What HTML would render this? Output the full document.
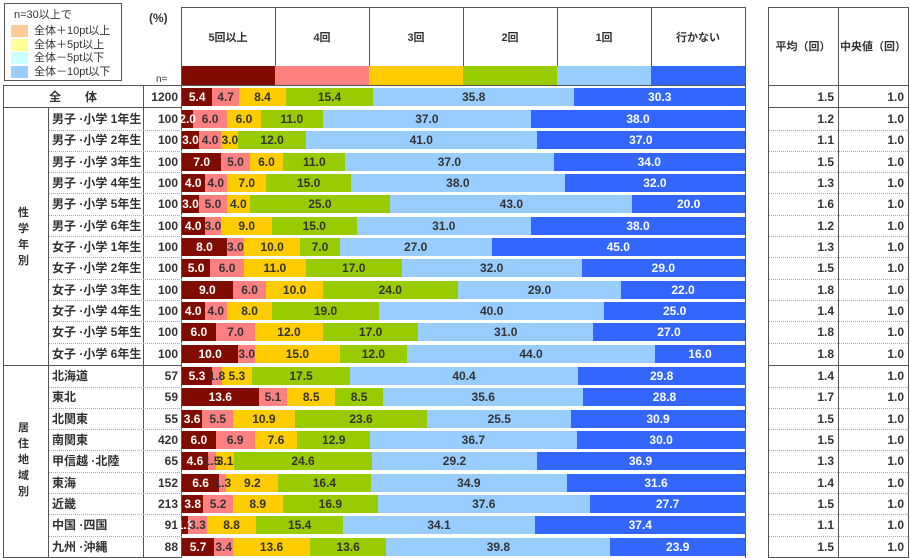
<!DOCTYPE html><html><head><meta charset="utf-8"><style>
body{margin:0;width:910px;height:558px;background:#fff;position:relative;overflow:hidden;font-family:"Liberation Sans","Noto Sans CJK JP",sans-serif;font-weight:bold;color:#333}
div{position:absolute;box-sizing:border-box}
.t{font-size:12px;white-space:nowrap;line-height:18px;height:18px}
</style></head><body>
<div style="left:4px;top:3px;width:118px;height:78px;border:1px solid #555"></div>
<div class="t" style="left:14px;top:6px;font-weight:normal;font-size:11px">n=30以上で</div>
<div class="t" style="left:149px;top:9px;font-size:12px">(%)</div>
<div class="t" style="left:156px;top:71px;font-size:10px;font-weight:normal">n=</div>
<div id="c"></div>
<script>
var c=document.getElementById('c'),h='',lab='';
function d(s){h+=s}
var lgc=['#ffcc99','#ffff99','#ccffff','#99ccff'],lgt=['全体＋10pt以上','全体＋5pt以上','全体－5pt以下','全体－10pt以下'];
for(var i=0;i<4;i++){d('<div style="left:11px;top:'+(25+i*13.5)+'px;width:17px;height:12px;background:'+lgc[i]+'"></div><div class="t" style="left:34px;top:'+(22+i*13.5)+'px;font-weight:normal;font-size:11px">'+lgt[i]+'</div>')}
var cols=['#800c00','#ff8080','#ffcc00','#99cc00','#99ccff','#3366ff'],hd=['5回以上','4回','3回','2回','1回','行かない'];
d('<div style="left:181px;top:7px;width:565px;height:79px;border:1px solid #555"></div>');
for(var i=0;i<6;i++){var x=181+i*94;
 if(i>0)d('<div style="left:'+x+'px;top:7px;width:1px;height:59px;background:#555"></div>');
 d('<div class="t" style="left:'+x+'px;top:29px;width:94px;text-align:center;font-size:11px">'+hd[i]+'</div>');
 d('<div style="left:'+x+'px;top:66px;width:'+(i==5?95:94)+'px;height:19px;background:'+cols[i]+'"></div>');}
d('<div style="left:768px;top:7px;width:141px;height:551px;border:1px solid #555"></div>');
d('<div style="left:838px;top:7px;width:1px;height:551px;background:#555"></div>');
d('<div style="left:768px;top:85px;width:141px;height:1px;background:#555"></div>');
d('<div class="t" style="left:768px;top:38px;width:70px;text-align:center;font-size:11px">平均（回）</div>');
d('<div class="t" style="left:838px;top:38px;width:70px;text-align:center;font-size:11px">中央値（回）</div>');
d('<div style="left:3px;top:85px;width:179px;height:473px;border:1px solid #555"></div>');
d('<div style="left:143px;top:85px;width:1px;height:473px;background:#555"></div>');
d('<div style="left:3px;top:107px;width:179px;height:1px;background:#555"></div>');
d('<div style="left:768px;top:107px;width:141px;height:1px;background:#555"></div>');
d('<div style="left:48px;top:107px;width:1px;height:451px;background:#555"></div>');
d('<div style="left:3px;top:365px;width:179px;height:1px;background:#555"></div>');
d('<div style="left:768px;top:365px;width:141px;height:1px;background:#555"></div>');
d('<div style="left:181px;top:7px;width:1px;height:551px;background:#555"></div>');
d('<div style="left:745px;top:7px;width:1px;height:551px;background:#555"></div>');
d('<div style="left:18px;top:205px;width:14px;line-height:16px;font-size:11px">性<br>学<br>年<br>別</div>');
d('<div style="left:18px;top:420px;width:14px;line-height:16px;font-size:11px">居<br>住<br>地<br>域<br>別</div>');
var R=[['全　　体',1200,[5.4,4.7,8.4,15.4,35.8,30.3],1.5],
['男子 ·小学 1年生',100,[2,6,6,11,37,38],1.2],['男子 ·小学 2年生',100,[3,4,3,12,41,37],1.1],['男子 ·小学 3年生',100,[7,5,6,11,37,34],1.5],['男子 ·小学 4年生',100,[4,4,7,15,38,32],1.3],['男子 ·小学 5年生',100,[3,5,4,25,43,20],1.6],['男子 ·小学 6年生',100,[4,3,9,15,31,38],1.2],
['女子 ·小学 1年生',100,[8,3,10,7,27,45],1.3],['女子 ·小学 2年生',100,[5,6,11,17,32,29],1.5],['女子 ·小学 3年生',100,[9,6,10,24,29,22],1.8],['女子 ·小学 4年生',100,[4,4,8,19,40,25],1.4],['女子 ·小学 5年生',100,[6,7,12,17,31,27],1.8],['女子 ·小学 6年生',100,[10,3,15,12,44,16],1.8],
['北海道',57,[5.3,1.8,5.3,17.5,40.4,29.8],1.4],['東北',59,[13.6,5.1,8.5,8.5,35.6,28.8],1.7],['北関東',55,[3.6,5.5,10.9,23.6,25.5,30.9],1.5],['南関東',420,[6,6.9,7.6,12.9,36.7,30],1.5],['甲信越 ·北陸',65,[4.6,1.5,3.1,24.6,29.2,36.9],1.3],['東海',152,[6.6,1.3,9.2,16.4,34.9,31.6],1.4],['近畿',213,[3.8,5.2,8.9,16.9,37.6,27.7],1.5],['中国 ·四国',91,[1.1,3.3,8.8,15.4,34.1,37.4],1.1],['九州 ·沖縄',88,[5.7,3.4,13.6,13.6,39.8,23.9],1.5]];
for(var r=0;r<R.length;r++){
 var cy=r==0?97:(r<13?119+(r-1)*21.33:376+(r-13)*21.33);
 var q=R[r],ty=cy-9;
 if(r==0)d('<div class="t" style="left:3px;top:'+ty+'px;width:140px;text-align:center">'+q[0]+'</div>');
 else d('<div class="t" style="left:52px;top:'+ty+'px">'+q[0]+'</div>');
 d('<div class="t" style="left:143px;top:'+ty+'px;width:35px;text-align:right">'+q[1]+'</div>');
 d('<div class="t" style="left:768px;top:'+ty+'px;width:66px;text-align:right">'+q[3].toFixed(1)+'</div>');
 d('<div class="t" style="left:838px;top:'+ty+'px;width:66px;text-align:right">1.0</div>');
 if(r>0&&r!=12&&r<21){d('<div style="left:49px;top:'+(cy+10.5)+'px;width:133px;border-top:1px dotted #aaa"></div><div style="left:769px;top:'+(cy+10.5)+'px;width:139px;border-top:1px dotted #aaa"></div>');}
 var x=182;
 for(var i=0;i<6;i++){var w=q[2][i]*5.63;
  d('<div style="left:'+x+'px;top:'+(cy-9)+'px;width:'+(w+0.5)+'px;height:18px;background:'+cols[i]+'"></div>');
  lab+='<div class="t" style="left:'+(x+w/2-20)+'px;top:'+ty+'px;width:40px;text-align:center;color:'+((i==0||i==5)?'#fff':'#333')+'">'+q[2][i].toFixed(1)+'</div>';
  x+=w;}
}
c.innerHTML=h+lab;
</script>
</body></html>
